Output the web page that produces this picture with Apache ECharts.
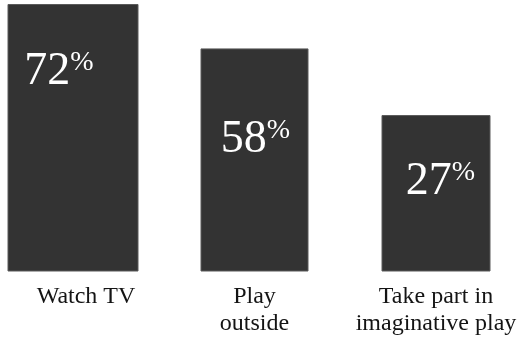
<!DOCTYPE html>
<html>
<head>
<meta charset="utf-8">
<script src="https://cdn.jsdelivr.net/npm/echarts@6/dist/echarts.min.js"></script>
<style>
html,body{margin:0;padding:0;background:#fff;}
#chart{width:521px;height:341px;}
</style>
</head>
<body>
<div id="chart"></div>
<script>
// Categories (x-axis labels)
const categories = ['Watch TV', 'Play\noutside', 'Take part in\nimaginative play'];
// Percentages printed on the bars
const percentValues = [72, 58, 27];
// Bar heights as drawn in the reference (the picture is not to scale)
const barHeights = [72, 60, 42];

// Styling constants
const BAR_WIDTHS = [130, 107, 108];
const LABEL_DX = [-14, 1, 4.5];
const LABEL_DY = [67, 91, 66];
const SERIF = "'Liberation Serif', 'Times New Roman', serif";

const chart = echarts.init(document.getElementById('chart'));
chart.setOption({
  animation: false,
  backgroundColor: '#ffffff',
  grid: { left: -17.75, right: -5.75, top: 4.5, bottom: 70, containLabel: false, outerBoundsMode: 'none' },
  xAxis: {
    type: 'category',
    data: categories,
    axisLine: { show: false },
    axisTick: { show: false },
    axisLabel: {
      interval: 0,
      margin: 12,
      color: '#141414',
      fontFamily: SERIF,
      fontSize: 24,
      lineHeight: 27,
      hideOverlap: false,
      formatter: function (v, i) { return i === 0 ? '{a|' + v + '}' : v; },
      rich: { a: { fontFamily: SERIF, fontSize: 24, lineHeight: 27, color: '#141414', padding: [0, 0, 0, 26] } }
    }
  },
  yAxis: { type: 'value', min: 0, max: 72, show: false, splitLine: { show: false } },
  series: [{
    type: 'custom',
    data: barHeights.map((h, i) => [i, h]),
    encode: { x: 0, y: 1 },
    renderItem: function (params, api) {
      const i = params.dataIndex;
      const top = api.coord([api.value(0), api.value(1)]);
      const base = api.coord([api.value(0), 0]);
      const w = BAR_WIDTHS[i];
      return {
        type: 'group',
        children: [
          { type: 'rect',
            shape: { x: top[0] - w / 2, y: top[1], width: w, height: base[1] - top[1] },
            style: { fill: '#333333', stroke: '#5a5a5a', lineWidth: 1 } },
          { type: 'text',
            x: top[0] + LABEL_DX[i], y: top[1] + LABEL_DY[i],
            style: {
              text: '{n|' + percentValues[i] + '}{p|%}',
              align: 'center', verticalAlign: 'middle',
              rich: {
                n: { fontFamily: SERIF, fontSize: 46, lineHeight: 46, fill: '#ffffff' },
                p: { fontFamily: SERIF, fontSize: 28, lineHeight: 20, fill: '#ffffff', verticalAlign: 'top' }
              }
            } }
        ]
      };
    }
  }]
});
</script>
</body>
</html>
